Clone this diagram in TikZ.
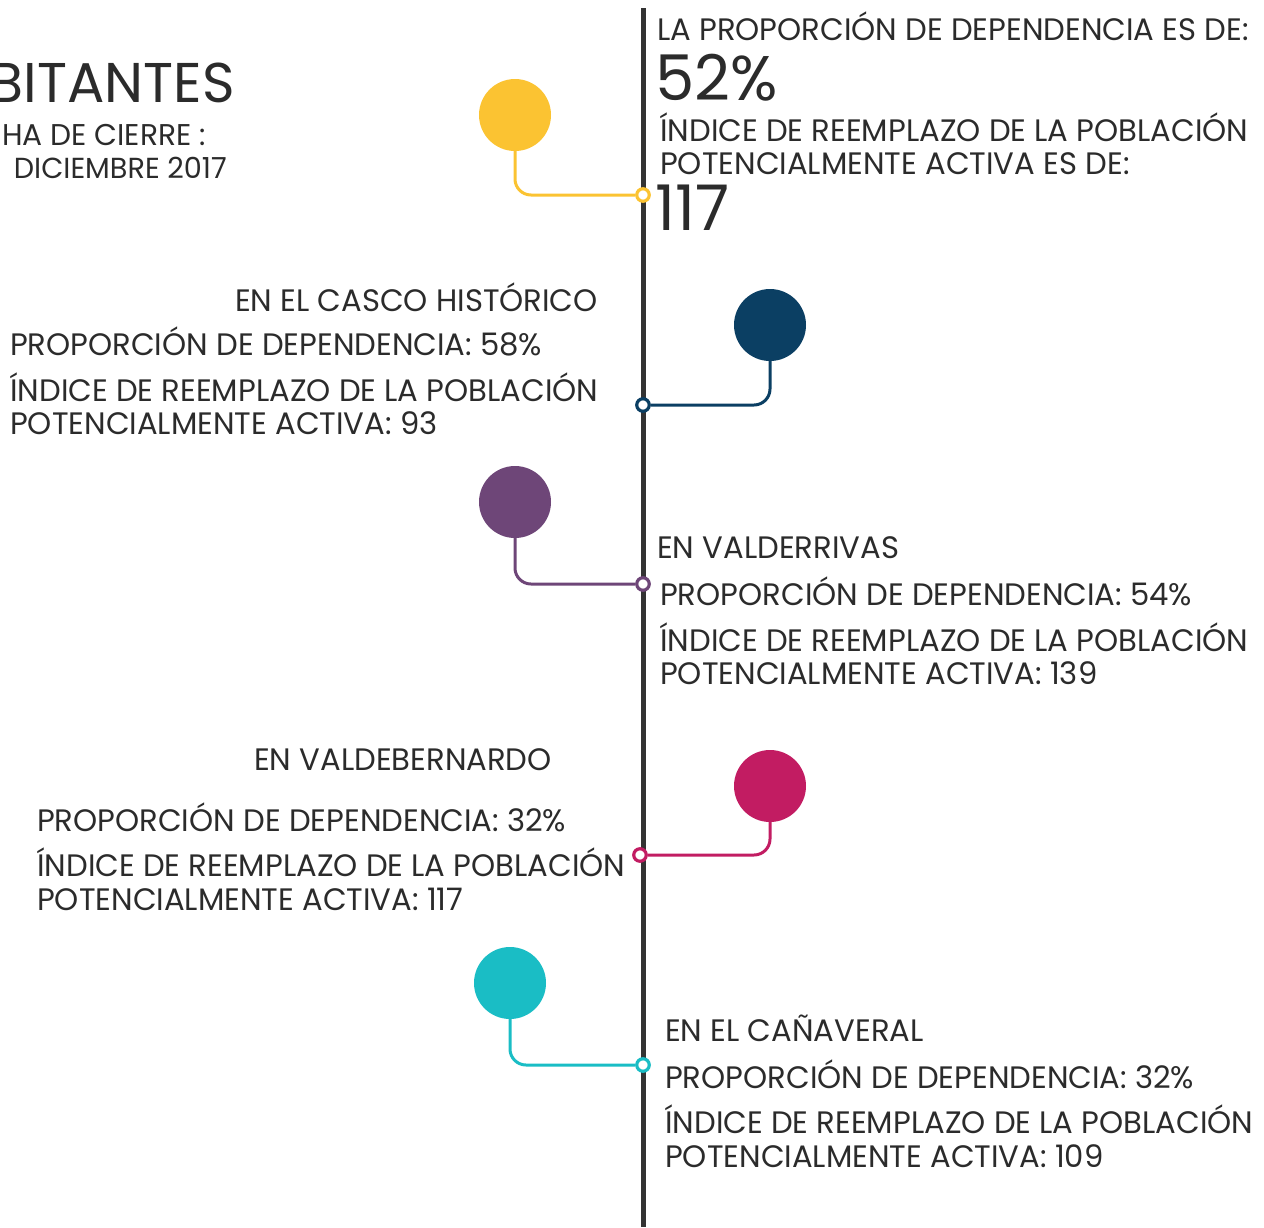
\documentclass[tikz,border=0pt]{standalone}
\usepackage{fontspec}
\setmainfont{Poppins}[FakeStretch=0.99]
\usetikzlibrary{positioning}
\definecolor{ejegris}{HTML}{333333}
\definecolor{textogris}{HTML}{2B2B2B}
\definecolor{amarillo}{HTML}{FBC332}
\definecolor{azul}{HTML}{0B3F63}
\definecolor{morado}{HTML}{6E4678}
\definecolor{magenta}{HTML}{C21C62}
\definecolor{turquesa}{HTML}{1ABDC5}
\tikzset{
	bola/.style = {circle, fill=#1, minimum size=72pt, inner sep=0pt},
	anillo/.style = {circle, draw=#1, fill=white, line width=3.2pt, minimum size=12.5pt, inner sep=0pt},
	enlace/.style = {draw=#1, line width=3pt, rounded corners=16pt},
	txt/.style = {inner sep=0pt, anchor=base west, text=textogris, font=\fontsize{31}{34}\selectfont},
	txtd/.style = {txt, anchor=base east},
	grande/.style = {txt, font=\fontsize{63}{66}\selectfont}
}
\begin{document}
\begin{tikzpicture}[x=1pt, y=-1pt]
	\useasboundingbox (0,0) rectangle (1264,1227);
	% eje del tiempo
	\coordinate (arriba) at (643,8);
	\coordinate (abajo) at (643,1227);
	\draw[line width=5pt, ejegris] (arriba) -- (abajo);

	% cabecera
	\node[grande, anchor=base east, font=\fontsize{56}{60}\selectfont] (titulo) at (235,102) {BITANTES};
	\node[txtd, font=\fontsize{30}{34}\selectfont] (fecha) at (206,145) {HA DE CIERRE :};
	\node[txtd, font=\fontsize{29}{34}\selectfont] (dia) at (227,178) {DICIEMBRE 2017};

	% total
	\node[bola=amarillo] (b1) at (515,115) {};
	\node[anillo=amarillo] (a1) at (643,195) {};
	\draw[enlace=amarillo] (b1.south) |- (a1.west);
	\node[txt] (t1) at (657,40) {LA PROPORCIÓN DE DEPENDENCIA ES DE:};
	\node[grande] (t1v) at (655,100) {52\%};
	\node[txt] (t1i) at (660,141) {ÍNDICE DE REEMPLAZO DE LA POBLACIÓN};
	\node[txt] (t1p) at (660,174) {POTENCIALMENTE ACTIVA ES DE:};
	\node[grande] (t1w) at (655,230) {117};

	% casco historico
	\node[bola=azul] (b2) at (770,325) {};
	\node[anillo=azul] (a2) at (643,405) {};
	\draw[enlace=azul] (b2.south) |- (a2.east);
	\node[txtd] (t2) at (598,311) {EN EL CASCO HISTÓRICO};
	\node[txt] (t2d) at (10,355) {PROPORCIÓN DE DEPENDENCIA: 58\%};
	\node[txt] (t2i) at (10,401) {ÍNDICE DE REEMPLAZO DE LA POBLACIÓN};
	\node[txt] (t2p) at (10,434) {POTENCIALMENTE ACTIVA: 93};

	% valderrivas
	\node[bola=morado] (b3) at (515,502) {};
	\node[anillo=morado] (a3) at (643,584) {};
	\draw[enlace=morado] (b3.south) |- (a3.west);
	\node[txt] (t3) at (657,558) {EN VALDERRIVAS};
	\node[txt] (t3d) at (660,605) {PROPORCIÓN DE DEPENDENCIA: 54\%};
	\node[txt] (t3i) at (660,651) {ÍNDICE DE REEMPLAZO DE LA POBLACIÓN};
	\node[txt] (t3p) at (660,684) {POTENCIALMENTE ACTIVA: 139};

	% valdebernardo
	\node[bola=magenta] (b4) at (770,786) {};
	\node[anillo=magenta] (a4) at (640,855) {};
	\draw[enlace=magenta] (b4.south) |- (a4.east);
	\node[txtd] (t4) at (552,770) {EN VALDEBERNARDO};
	\node[txt] (t4d) at (37,831) {PROPORCIÓN DE DEPENDENCIA: 32\%};
	\node[txt] (t4i) at (37,876) {ÍNDICE DE REEMPLAZO DE LA POBLACIÓN};
	\node[txt] (t4p) at (37,910) {POTENCIALMENTE ACTIVA: 117};

	% el canaveral
	\node[bola=turquesa] (b5) at (510,983) {};
	\node[anillo=turquesa] (a5) at (643,1065) {};
	\draw[enlace=turquesa] (b5.south) |- (a5.west);
	\node[txt] (t5) at (665,1041) {EN EL CAÑAVERAL};
	\node[txt] (t5d) at (665,1088) {PROPORCIÓN DE DEPENDENCIA: 32\%};
	\node[txt] (t5i) at (665,1133) {ÍNDICE DE REEMPLAZO DE LA POBLACIÓN};
	\node[txt] (t5p) at (665,1167) {POTENCIALMENTE ACTIVA: 109};
\end{tikzpicture}
\end{document}
